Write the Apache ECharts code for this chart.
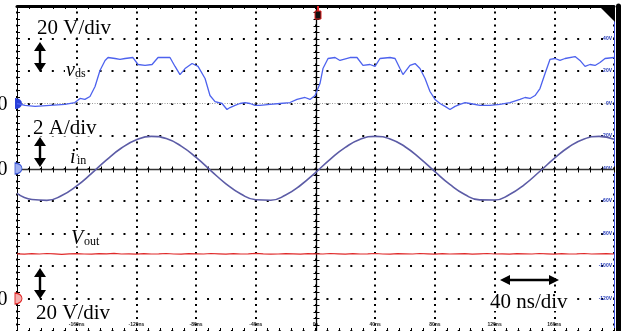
<!DOCTYPE html>
<html><head><meta charset="utf-8">
<script src="https://cdn.jsdelivr.net/npm/echarts@6/dist/echarts.min.js"></script>
<style>html,body{margin:0;padding:0;background:#fff;overflow:hidden}#c{width:623px;height:331px}</style>
</head><body><div id="c"></div>
<script>
// ---- data ----
// time axis: 40 ns/div, 10 divisions, trigger at 0
const timeLabels = ['-160ns','-120ns','-80ns','-40ns','0s','40ns','80ns','120ns','160ns'];
// channel 1 scale labels (20 V/div)
const ch1Labels = ['-120V','-100V','-80V','-60V','-40V','-20V','0V','20V','40V'];

// v_ds  [time ns, volts]
const vdsPoints = [
[-200,0],[-194.6,-1.2],[-187.9,-1.8],[-177.9,-1.2],[-167.9,-0.6],[-161.2,0.6],[-157.8,3.1],[-154.5,2.5],
[-151.1,4.3],[-147.7,10.5],[-144.4,20.3],[-141,26.5],[-139,28.3],[-134.3,27.7],[-131,27.1],[-127.6,27.7],
[-122.3,28.3],[-118.9,24],[-114.2,23.4],[-109.5,24],[-105.5,28.3],[-97.5,28.3],[-94.1,22.8],[-90.8,17.8],
[-87.4,21.5],[-82.7,24.6],[-78.7,22.8],[-74,15.4],[-70.7,4.9],[-67.3,1.2],[-62.6,0],[-59.3,-3.7],
[-57.3,-2.5],[-53.9,-1.2],[-50.6,0],[-47.2,0.6],[-43.9,0],[-40.5,-1.2],[-37.2,-1.2],[-30.5,-0.6],
[-23.8,0],[-17.1,0.6],[-12.4,2.5],[-7,3.7],[-3.7,2.5],[-0.3,4.9],[3,12.3],[5,21.5],
[8.4,27.7],[13.1,28.3],[16.4,26.5],[23.1,28.3],[27.8,28.3],[31.8,23.4],[36.5,24],[39.9,22.8],
[43.2,27.7],[49.9,28.3],[53.3,27.7],[56.6,21.5],[58.6,17.8],[63.3,23.4],[66.7,24.6],[70,21.5],
[73.4,15.4],[76.7,7.4],[80.1,2.5],[83.4,0],[86.8,-1.8],[90.1,-3.7],[93.5,-1.8],[96.8,-0.6],
[100.2,0.6],[103.5,0],[110.2,-1.2],[116.9,-1.2],[123.6,-0.6],[130.3,0.6],[137,2.5],[140.4,3.7],
[143.7,3.1],[147.1,4.9],[150.4,9.2],[153.8,18.5],[157.1,27.1],[160.5,27.7],[163.8,26.5],[167.2,27.7],
[173.9,28.9],[177.2,26.5],[180.6,22.8],[183.9,24],[187.3,23.4],[190.6,25.2],[194,27.7],[200,28.3]
];

// i_in sampled every 10 ns (amps)
const iinTimes = [-200,-190,-180,-170,-160,-150,-140,-130,-120,-110,-100,-90,-80,-70,-60,-50,-40,-30,-20,-10,
0,10,20,30,40,50,60,70,80,90,100,110,120,130,140,150,160,170,180,190,200];
const iinValues = [-1.53,-1.91,-1.96,-1.66,-1.07,-0.30,0.53,1.26,1.77,1.98,1.84,1.38,0.68,-0.14,-0.94,-1.57,-1.92,-1.95,-1.63,-1.03,
-0.25,0.58,1.30,1.80,1.98,1.82,1.34,0.63,-0.19,-0.98,-1.60,-1.93,-1.94,-1.60,-0.99,-0.20,0.62,1.34,1.82,1.98,1.80];

// V_out sampled every 5 ns (volts)
const voutTimes = [-200,-195,-190,-185,-180,-175,-170,-165,-160,-155,-150,-145,-140,-135,-130,-125,-120,-115,-110,-105,
-100,-95,-90,-85,-80,-75,-70,-65,-60,-55,-50,-45,-40,-35,-30,-25,-20,-15,-10,-5,
0,5,10,15,20,25,30,35,40,45,50,55,60,65,70,75,80,85,90,95,
100,105,110,115,120,125,130,135,140,145,150,155,160,165,170,175,180,185,190,195,200];
const voutValues = [27.5,27.3,27.6,27.4,27.7,27.5,27.2,27.5,27.6,27.4,
27.3,27.6,27.5,27.8,27.4,27.5,27.3,27.6,27.4,27.5,
27.7,27.4,27.3,27.6,27.5,27.4,27.7,27.5,27.3,27.6,
27.4,27.5,27.8,27.5,27.3,27.4,27.6,27.5,27.3,27.6,
27.5,27.4,27.7,27.5,27.3,27.6,27.4,27.5,27.7,27.4,
27.3,27.6,27.5,27.4,27.7,27.5,27.3,27.6,27.4,27.5,
27.6,27.3,27.5,27.7,27.4,27.5,27.3,27.6,27.5,27.4,
27.7,27.5,27.3,27.6,27.4,27.5,27.7,27.4,27.5,27.6,27.4];

// ---- chart ----
const SERIF = '"Liberation Serif", "Times New Roman", serif';
const chart = echarts.init(document.getElementById('c'), null, {renderer:'canvas'});

function zipXY(xs, ys){ return xs.map((x,i)=>[x, ys[i]]); }

function vArrow(x, y1, y2){
  return {type:'group', z:110, children:[
    {type:'polygon', z:110, shape:{points:[[x,y1],[x-6,y1+9],[x+6,y1+9]]}, style:{fill:'#000'}},
    {type:'polygon', z:110, shape:{points:[[x,y2],[x-6,y2-9],[x+6,y2-9]]}, style:{fill:'#000'}},
    {type:'rect', z:110, shape:{x:x-1.2, y:y1+8, width:2.4, height:(y2-y1)-16}, style:{fill:'#000'}}
  ]};
}
function hArrow(x1, x2, y){
  return {type:'group', z:110, children:[
    {type:'polygon', z:110, shape:{points:[[x1,y],[x1+10,y-5],[x1+10,y+5]]}, style:{fill:'#000'}},
    {type:'polygon', z:110, shape:{points:[[x2,y],[x2-10,y-5],[x2-10,y+5]]}, style:{fill:'#000'}},
    {type:'rect', z:110, shape:{x:x1+9, y:y-1.2, width:(x2-x1)-18, height:2.4}, style:{fill:'#000'}}
  ]};
}
function txt(x, y, s, size, italic, bg){
  const st = {text:s, fill:'#000',
    font:(italic?'italic ':'')+size+'px '+SERIF, align:'left', verticalAlign:'middle'};
  if (bg) { st.backgroundColor = '#fff'; st.padding = [0,1,0,1]; st.lineHeight = Math.round(size*0.8); }
  return {type:'text', x:x, y:y, z:100, style:st};
}

const dShape = 'path://M0 0A5 5 0 0 1 0 10Z';

const option = {
  animation:false,
  backgroundColor:'#fff',
  grid:{left:17, right:9, top:6, bottom:0, containLabel:false},
  xAxis:[
    {type:'value', min:-200, max:200, interval:40, position:'bottom',
     axisLine:{show:false, onZero:false},
     axisTick:{show:true, inside:true, length:3, lineStyle:{color:'#000', width:1}},
     minorTick:{show:true, splitNumber:5, length:3, lineStyle:{color:'#000', width:1}},
     axisLabel:{show:true, inside:true, margin:4, fontSize:5, fontWeight:'bold', color:'#222',
       showMinLabel:false, showMaxLabel:false,
       formatter:(v)=>{ const k = Math.round((v+160)/40); return timeLabels[k] || ''; }},
     splitLine:{show:true, lineStyle:{color:'#000', width:2, type:[2,4.5], dashOffset:1}}},
    {type:'value', min:-200, max:200, interval:40, position:'top',
     axisLine:{show:true, onZero:false, lineStyle:{color:'#000', width:3}},
     axisTick:{show:true, inside:true, length:3, lineStyle:{color:'#000', width:1}},
     minorTick:{show:true, splitNumber:5, length:3, lineStyle:{color:'#000', width:1}},
     axisLabel:{show:false}, splitLine:{show:false}}
  ],
  yAxis:[
    {type:'value', min:-140, max:60, interval:20, position:'right',
     axisLine:{show:true, onZero:false, lineStyle:{color:'#3d52e6', width:1}},
     axisTick:{show:false},
     axisLabel:{show:true, inside:true, margin:2, fontSize:5, fontWeight:'bold', color:'#1f36b8',
       showMinLabel:false, showMaxLabel:false,
       formatter:(v)=>{ const k = Math.round((v+120)/20); return ch1Labels[k] || ''; }},
     splitLine:{show:true, lineStyle:{color:'#000', width:2, type:[2,9.94], dashOffset:1}}},
    {type:'value', min:-10, max:10, interval:2, position:'left',
     axisLine:{show:true, onZero:false, lineStyle:{color:'#000', width:1}},
     axisTick:{show:true, inside:true, length:3, lineStyle:{color:'#000', width:1}},
     minorTick:{show:true, splitNumber:5, length:3, lineStyle:{color:'#000', width:1}},
     axisLabel:{show:false}, splitLine:{show:false}},
    {type:'value', min:-20, max:180, interval:20, show:false},
    {type:'value', min:0, max:1, position:'right', offset:4,
     axisLine:{show:true, onZero:false, lineStyle:{color:'#000', width:5}},
     axisTick:{show:false}, axisLabel:{show:false}, splitLine:{show:false}}
  ],
  series:[
    {type:'custom', name:'crosshair', xAxisIndex:0, yAxisIndex:1, data:[[0,0]], silent:true, z:1, clip:false,
     renderItem:(params, api)=>{
       const top = api.coord([0,10]), bot = api.coord([0,-10]);
       const lft = api.coord([-200,0]), rgt = api.coord([200,0]);
       const cx = Math.round(top[0])+0.5, cy = Math.round(lft[1])+0.5;
       const ch = [
         {type:'line', shape:{x1:cx,y1:top[1],x2:cx,y2:bot[1]}, style:{stroke:'#000', lineWidth:1.3}},
         {type:'line', shape:{x1:lft[0],y1:cy,x2:rgt[0],y2:cy}, style:{stroke:'#333', lineWidth:1.5}}
       ];
       for(let k=-25;k<=25;k++){
         const p = api.coord([0, k*0.4]);
         const y = Math.round(p[1])+0.5;
         ch.push({type:'line', shape:{x1:cx-3,y1:y,x2:cx+3,y2:y}, style:{stroke:'#000', lineWidth:1}});
       }
       for(let k=-25;k<=25;k++){
         const p = api.coord([k*8, 0]);
         const x = Math.round(p[0])+0.5;
         ch.push({type:'line', shape:{x1:x,y1:cy-3,x2:x,y2:cy+3}, style:{stroke:'#000', lineWidth:1}});
       }
       return {type:'group', children:ch};
     }},
    {type:'line', name:'vds', xAxisIndex:0, yAxisIndex:0, data:vdsPoints, showSymbol:false, z:5,
     lineStyle:{color:'#4d62ee', width:1.3},
     markLine:{silent:true, symbol:'none', label:{show:false},
       lineStyle:{color:'#9a9a9a', type:[1,1.5], width:1}, data:[{yAxis:0}]},
     markPoint:{silent:true, label:{show:false}, data:[{coord:[-200,0], symbol:dShape, symbolSize:[7,11], symbolOffset:[1.5,0], itemStyle:{color:'#2a40da'}}]}},
    {type:'line', name:'iin', xAxisIndex:0, yAxisIndex:1, data:zipXY(iinTimes, iinValues), showSymbol:false, smooth:true, z:4,
     lineStyle:{color:'#5c5ca6', width:1.6},
     markPoint:{silent:true, label:{show:false}, data:[{coord:[-200,0], symbol:dShape, symbolSize:[7,11], symbolOffset:[1.5,0], itemStyle:{color:'#9fb0f2', borderColor:'#3a55d6', borderWidth:1}}]}},
    {type:'line', name:'vout', xAxisIndex:0, yAxisIndex:2, data:zipXY(voutTimes, voutValues), showSymbol:false, z:4,
     lineStyle:{color:'#e02a2a', width:1.2},
     markPoint:{silent:true, label:{show:false}, data:[{coord:[-200,0], symbol:dShape, symbolSize:[7,11], symbolOffset:[1.5,0], itemStyle:{color:'#f6b0b0', borderColor:'#e02828', borderWidth:1.2}}]}}
  ],
  graphic:[
    txt(-2.5, 104.5, '0', 20), txt(-2.5, 170, '0', 20), txt(-2.5, 300, '0', 20),
    txt(36, 28.5, '20 V/div', 21, false, true),
    txt(32, 128, '2 A/div', 21, false, true),
    txt(35, 313.5, '20 V/div', 21, false, true),
    txt(489, 302.5, '40 ns/div', 21, false, true),
    txt(65, 70.5, 'v', 20, true, true), txt(74, 73.5, 'ds', 12, false, true),
    txt(69, 157.5, 'i', 20, true, true), txt(76, 160.5, 'in', 12, false, true),
    txt(70, 238.5, 'V', 20, true, true), txt(83, 241.5, 'out', 12, false, true),
    vArrow(40, 42, 72), vArrow(40, 137, 167), vArrow(40, 268, 299),
    hArrow(500, 559, 280),
    {type:'polygon', z:100, shape:{points:[[600,7],[615,7],[615,22]]}, style:{fill:'#000'}},
    {type:'rect', z:100, shape:{x:315, y:11, width:6, height:8}, style:{fill:'#111', stroke:'#e02020', lineWidth:1}},
    {type:'rect', z:100, shape:{x:317, y:6, width:2, height:5}, style:{fill:'#e02020'}}
  ]
};
chart.setOption(option);
</script>
</body></html>
